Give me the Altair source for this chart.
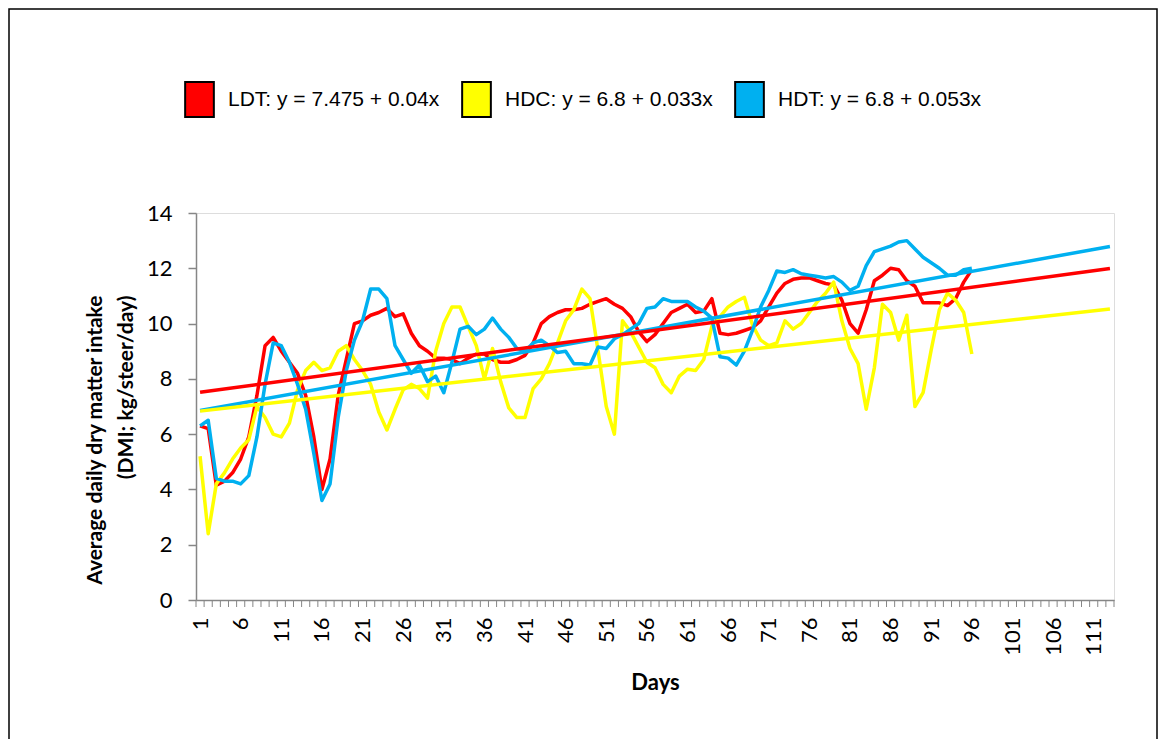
import altair as alt
import pandas as pd

# ---------------- data ----------------
days = list(range(1, 97))

ldt = [6.3, 6.2, 4.15, 4.3, 4.6, 5.1, 5.9, 7.4, 9.2, 9.5,
       9.0, 8.6, 8.2, 7.4, 5.9, 4.0, 5.1, 7.4, 8.7, 10.0,
       10.1, 10.3, 10.4, 10.55, 10.25, 10.35, 9.65, 9.2, 9.0, 8.75,
       8.75, 8.7, 8.55, 8.75, 8.9, 8.9, 8.7, 8.6, 8.6, 8.7,
       8.85, 9.3, 10.0, 10.25, 10.4, 10.5, 10.5, 10.55, 10.7, 10.8,
       10.9, 10.7, 10.55, 10.25, 9.7, 9.35, 9.6, 10.0, 10.4, 10.55,
       10.7, 10.4, 10.45, 10.9, 9.65, 9.6, 9.65, 9.75, 9.85, 10.1,
       10.6, 11.1, 11.45, 11.6, 11.65, 11.65, 11.55, 11.45, 11.4, 10.85,
       10.0, 9.65, 10.5, 11.55, 11.75, 12.0, 11.95, 11.55, 11.35, 10.75,
       10.75, 10.75, 10.65, 10.9, 11.5, 11.95]

hdc = [5.2, 2.4, 4.2, 4.6, 5.1, 5.5, 5.8, 7.0, 6.6, 6.0,
       5.9, 6.4, 7.6, 8.3, 8.6, 8.3, 8.4, 9.0, 9.2, 8.7,
       8.3, 7.8, 6.8, 6.15, 6.9, 7.6, 7.8, 7.65, 7.3, 9.0,
       10.0, 10.6, 10.6, 9.9, 9.2, 8.0, 9.1, 7.9, 6.95, 6.6,
       6.6, 7.65, 8.0, 8.55, 9.3, 10.1, 10.5, 11.25, 10.9, 9.0,
       7.0, 6.0, 10.1, 9.7, 9.15, 8.6, 8.4, 7.8, 7.5, 8.1,
       8.35, 8.3, 8.7, 9.9, 10.25, 10.6, 10.8, 10.95, 9.95, 9.4,
       9.2, 9.3, 10.1, 9.8, 10.0, 10.4, 10.8, 11.1, 11.5, 10.1,
       9.1, 8.55, 6.9, 8.4, 10.7, 10.4, 9.4, 10.3, 7.0, 7.5,
       9.05, 10.5, 11.1, 10.85, 10.4, 8.9]

hdt = [6.3, 6.5, 4.4, 4.3, 4.3, 4.2, 4.5, 5.9, 7.8, 9.3,
       9.2, 8.6, 7.8, 6.9, 5.3, 3.6, 4.2, 6.6, 8.3, 9.4,
       10.1, 11.25, 11.25, 10.9, 9.2, 8.7, 8.2, 8.5, 7.9, 8.1,
       7.5, 8.6, 9.8, 9.9, 9.6, 9.8, 10.2, 9.8, 9.5, 9.1,
       9.0, 9.3, 9.4, 9.2, 8.95, 9.0, 8.55, 8.55, 8.5, 9.15,
       9.1, 9.45, 9.6, 9.8, 10.0, 10.55, 10.6, 10.9, 10.8, 10.8,
       10.8, 10.6, 10.45, 10.2, 8.8, 8.75, 8.5, 9.0, 9.75, 10.6,
       11.2, 11.9, 11.85, 11.95, 11.8, 11.75, 11.7, 11.65, 11.7, 11.5,
       11.2, 11.35, 12.1, 12.6, 12.7, 12.8, 12.95, 13.0, 12.7, 12.4,
       12.2, 12.0, 11.75, 11.75, 11.95, 12.0]

series_names = ["LDT", "HDC", "HDT"]
intercepts = [7.475, 6.8, 6.8]
slopes = [0.04, 0.033, 0.053]
colors = ["#FF0000", "#FFFF00", "#00B0F0"]

categories = list(range(1, 114))          # category axis 1..113
tick_labels = categories[::5]             # 1, 6, ..., 111
y_ticks = [0, 2, 4, 6, 8, 10, 12, 14]

labels = [f"{n}: y = {a} + {b}x" for n, a, b in zip(series_names, intercepts, slopes)]

# ---------------- tables ----------------
series_values = [ldt, hdc, hdt]
line_dfs = [pd.DataFrame({"day": days, "value": v, "series": n})
            for v, n in zip(series_values, series_names)]

trend_x = [categories[0], categories[-1]]
trend_dfs = [pd.DataFrame({"day": trend_x,
                           "value": [a + b * x for x in trend_x],
                           "series": n})
             for a, b, n in zip(intercepts, slopes, series_names)]

bounds_df = pd.DataFrame({"day": [c - 0.5 for c in categories] + [categories[-1] + 0.5]})

# ---------------- encodings ----------------
W, H = 918, 387
GREY = "#868686"

x_scale = alt.Scale(domain=[categories[0] - 0.5, categories[-1] + 0.5], nice=False, zero=False)
y_scale = alt.Scale(domain=[0, 14], nice=False)

x_axis = alt.Axis(values=tick_labels, ticks=False, labelAngle=270, labelAlign="right",
                  labelBaseline="middle", labelFont="Lato", labelFontSize=22,
                  labelColor="black", labelPadding=17, labelOverlap=False, labelFlush=False,
                  domainColor=GREY, domainWidth=1.5, grid=False,
                  title="Days", titleFont="Lato", titleFontSize=22, titleFontWeight="bold",
                  titleColor="black", titlePadding=17)
y_axis = alt.Axis(values=y_ticks, tickSize=8, tickColor=GREY, tickWidth=1.5,
                  domainColor=GREY, domainWidth=1.5, grid=False,
                  labelFont="Lato", labelFontSize=22, labelColor="black", labelPadding=16,
                  title=["Average daily dry matter intake", "(DMI; kg/steer/day)"],
                  titleFont="Lato", titleFontSize=21, titleFontWeight="bold",
                  titleColor="black", titlePadding=10, titleLineHeight=31,
                  titleAngle=270, titleAlign="right", titleY=82)

X = alt.X("day:Q", scale=x_scale, axis=x_axis)
Y = alt.Y("value:Q", scale=y_scale, axis=y_axis)
color_enc = alt.Color("series:N", scale=alt.Scale(domain=series_names, range=colors),
                      legend=None)

layers = []
# frame around the whole chart area
frame = alt.Chart(pd.DataFrame({"k": [0]})).mark_rect(
    fill="white", fillOpacity=0, stroke="black", strokeWidth=1.5
).encode(x=alt.value(-187), x2=alt.value(961), y=alt.value(-204), y2=alt.value(560))
layers.append(frame)

# x tick marks between categories
ticks = alt.Chart(bounds_df).mark_rule(color=GREY, strokeWidth=1).encode(
    x=X, y=alt.value(H), y2=alt.value(H + 7))
layers.append(ticks)

for df in line_dfs:
    layers.append(alt.Chart(df).mark_line(strokeWidth=3.5, strokeJoin="round").encode(
        x=X, y=Y, color=color_enc))

for i in [2, 1, 0]:
    layers.append(alt.Chart(trend_dfs[i]).mark_line(strokeWidth=3.5).encode(
        x=X, y=Y, color=color_enc))

# legend carrier: no marks drawn, only the fill legend with the equations
legend_df = pd.DataFrame({"label": labels})
legend_layer = alt.Chart(legend_df).mark_square(
    filled=True, stroke="black", strokeWidth=2, opacity=1, size=1225
).encode(
    fill=alt.Fill("label:N", scale=alt.Scale(domain=labels, range=colors),
                  legend=alt.Legend(orient="none", legendX=-15, legendY=-132,
                                    direction="horizontal", title=None,
                                    symbolType="M-0.82,-1H0.82V1H-0.82Z",
                                    symbolSize=1225, symbolStrokeWidth=2,
                                    symbolOpacity=1,
                                    labelFont="Liberation Sans", labelFontSize=21,
                                    labelColor="black", labelOffset=10, labelLimit=600,
                                    columnPadding=18, padding=0))
).transform_filter("false")
layers.append(legend_layer)

chart = alt.layer(*layers).properties(
    width=W, height=H,
    autosize=alt.AutoSizeParams(type="none"),
    padding={"left": 188, "top": 205, "right": 44, "bottom": 139},
).configure_view(stroke=None).configure(background="white")

chart.save("out.html", embed_options={"renderer": "svg", "actions": False})
